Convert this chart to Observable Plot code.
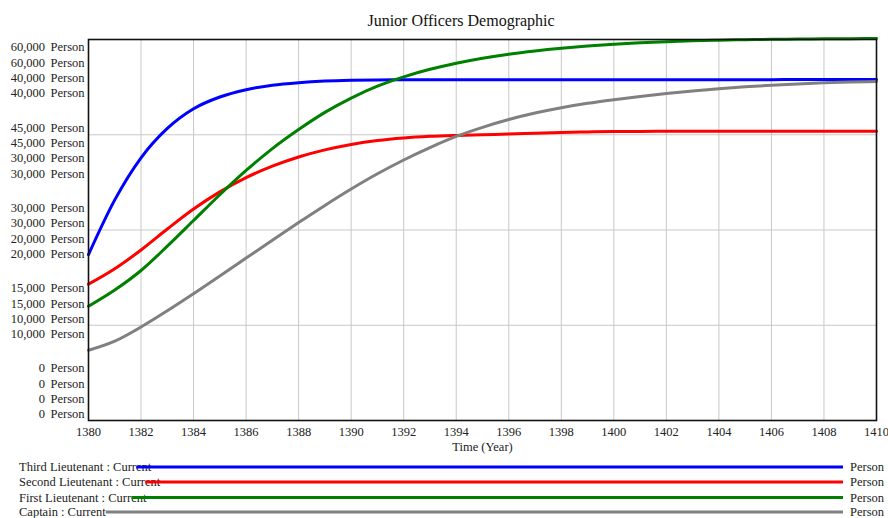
<!DOCTYPE html>
<html>
<head>
<meta charset="utf-8">
<script src="https://cdn.jsdelivr.net/npm/d3@7"></script>
<script src="https://cdn.jsdelivr.net/npm/@observablehq/plot@0.6"></script>
<style>
  html, body { margin: 0; padding: 0; background: #fff; }
  body { width: 888px; height: 518px; position: relative; overflow: hidden; font-family: "Liberation Serif", "Times New Roman", serif; }
  #title { position: absolute; left: 0; top: 0; width: 888px; height: 30px; }
  #title span { position: absolute; left: 461px; top: 21px; transform: translate(-50%, -50%); font-size: 16px; color: #111; white-space: nowrap; }
  #chart { position: absolute; left: 0; top: 30px; }
  #legend { position: absolute; left: 0; top: 455px; }
</style>
</head>
<body>
<div id="title"><span>Junior Officers Demographic</span></div>
<div id="chart"></div>
<div id="legend"></div>
<script>
// ---------- data ----------
const years = d3.range(1380, 1411);
const seriesNames = ["Third Lieutenant", "Second Lieutenant", "First Lieutenant", "Captain"];
const seriesColors = ["#0000ff", "#ff0000", "#008000", "#808080"];
const scaleMax = [60000, 60000, 40000, 40000];
const units = "Person";

const thirdLieutenant = [26130, 34740, 41370, 46000, 49100, 50950, 52100, 52800, 53200, 53450, 53580, 53640, 53670, 53680, 53680, 53680, 53680, 53680, 53680, 53680, 53680, 53680, 53680, 53680, 53680, 53680, 53680, 53690, 53690, 53700, 53700];
const secondLieutenant = [21470, 23900, 26850, 30150, 33300, 36000, 38250, 40050, 41500, 42620, 43480, 44100, 44500, 44750, 44900, 45010, 45110, 45230, 45350, 45440, 45500, 45530, 45550, 45550, 45550, 45550, 45550, 45550, 45550, 45550, 45550];
const firstLieutenant = [12000, 13700, 15750, 18300, 21000, 23700, 26250, 28550, 30550, 32350, 33850, 35100, 36080, 36870, 37500, 38030, 38460, 38800, 39080, 39310, 39500, 39650, 39770, 39860, 39930, 39980, 40020, 40050, 40070, 40090, 40100];
const captain = [7370, 8330, 9820, 11520, 13320, 15170, 17050, 18930, 20780, 22580, 24300, 25900, 27350, 28650, 29820, 30780, 31600, 32280, 32840, 33300, 33680, 34020, 34330, 34600, 34830, 35030, 35200, 35340, 35450, 35530, 35590];

const seriesValues = [thirdLieutenant, secondLieutenant, firstLieutenant, captain];
const xTicks = d3.range(1380, 1411, 2);
const yLevels = [1, 0.75, 0.5, 0.25, 0]; // fraction of each series' own scale

// ---------- table ----------
const rows = [];
seriesNames.forEach((name, j) => {
  seriesValues[j].forEach((v, k) => {
    rows.push({series: name, year: years[k], value: v, frac: v / scaleMax[j]});
  });
});

const fmt = d3.format(",");
const labelMarks = [];
yLevels.forEach((f, i) => {
  const nums = scaleMax.map(m => fmt(Math.round(m * f))).join("\n");
  const pers = scaleMax.map(() => units).join("\n");
  const dy = 30 - 15 * i;
  labelMarks.push(Plot.text([f], {y: d => d, text: () => nums, frameAnchor: "left", textAnchor: "end", dx: -43.5, dy, lineHeight: 1.224, lineAnchor: "middle", fill: "#222", fontSize: 12.5}));
  labelMarks.push(Plot.text([f], {y: d => d, text: () => pers, frameAnchor: "left", textAnchor: "start", dx: -38, dy, lineHeight: 1.224, lineAnchor: "middle", fill: "#222", fontSize: 12.5}));
});

const chart = Plot.plot({
  width: 888,
  height: 425,
  marginTop: 9,
  marginLeft: 88,
  marginRight: 12,
  marginBottom: 35,
  style: {fontFamily: "Liberation Serif, Times New Roman, serif", fontSize: "12.5px", color: "#222", background: "white"},
  x: {domain: [1380, 1410], label: null},
  y: {domain: [0, 1], axis: null},
  color: {domain: seriesNames, range: seriesColors},
  marks: [
    Plot.gridX(xTicks, {stroke: "#c8c8c8", strokeOpacity: 1, strokeWidth: 1}),
    Plot.gridY([0.75, 0.5, 0.25], {stroke: "#c8c8c8", strokeOpacity: 1, strokeWidth: 1}),
    Plot.line(rows, {x: "year", y: "frac", z: "series", stroke: "series", strokeWidth: 3, curve: "monotone-x"}),
    Plot.frame({stroke: "#111", strokeWidth: 1.6}),
    Plot.axisX({ticks: xTicks, tickFormat: d => String(d), tickSize: 0, tickPadding: 7, fontSize: 12.5, fill: "#222", label: null}),
    Plot.text(["Time (Year)"], {frameAnchor: "bottom", dy: 30, fontSize: 12.5, fill: "#222"}),
    ...labelMarks
  ]
});
document.getElementById("chart").appendChild(chart);

// ---------- legend ----------
const leg = d3.select("#legend").append("svg").attr("width", 888).attr("height", 63)
  .style("font-family", "Liberation Serif, Times New Roman, serif").style("font-size", "12.5px");
const rowY = [12, 27, 42.5, 57];
seriesNames.forEach((name, j) => {
  const t = leg.append("text").attr("x", 19).attr("y", rowY[j]).attr("dominant-baseline", "central").attr("fill", "#222")
    .text(name + " : Current");
  const w = t.node().getComputedTextLength();
  leg.append("line").attr("x1", 19 + w - (j === 3 ? 0 : 15)).attr("x2", 843).attr("y1", rowY[j]).attr("y2", rowY[j])
    .attr("stroke", seriesColors[j]).attr("stroke-width", 3);
  leg.append("text").attr("x", 850).attr("y", rowY[j]).attr("dominant-baseline", "central").attr("fill", "#222").text(units);
});
</script>
</body>
</html>
